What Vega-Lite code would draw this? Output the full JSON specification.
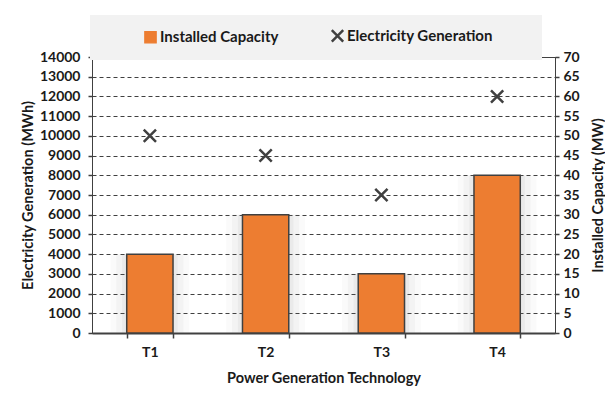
{
  "$schema": "https://vega.github.io/schema/vega-lite/v6.json",
  "width": 463,
  "height": 276,
  "autosize": {"type": "none"},
  "padding": {"left": 92, "top": 57, "right": 50, "bottom": 77},
  "background": "white",
  "config": {
    "font": "Lato",
    "view": {"stroke": "#404040", "strokeWidth": 1},
    "axis": {
      "labelFont": "Lato",
      "labelFontWeight": "bold",
      "labelFontSize": 14,
      "labelColor": "#1a1a1a",
      "titleFont": "Lato",
      "titleFontWeight": "bold",
      "titleFontSize": 14.5,
      "titleColor": "#1a1a1a",
      "domainColor": "#404040",
      "tickColor": "#404040",
      "tickWidth": 1.5,
      "tickSize": 4
    },
    "legend": {
      "orient": "none",
      "legendX": -2,
      "legendY": -42,
      "direction": "horizontal",
      "fillColor": "#f2f2f2",
      "padding": 13,
      "symbolOffset": 40,
      "columnPadding": 11,
      "labelOffset": 2,
      "symbolSize": 130,
      "labelFont": "Lato",
      "labelFontWeight": "bold",
      "labelFontSize": 15,
      "labelColor": "#1a1a1a",
      "labelLimit": 300,
      "titleOrient": "right",
      "titlePadding": 36
    }
  },
  "data": {
    "values": [
      {"tech": "T1", "capacity": 20, "generation": 10000},
      {"tech": "T2", "capacity": 30, "generation": 9000},
      {"tech": "T3", "capacity": 15, "generation": 7000},
      {"tech": "T4", "capacity": 40, "generation": 12000}
    ]
  },
  "encoding": {
    "x": {
      "field": "tech",
      "type": "nominal",
      "title": "Power Generation Technology",
      "scale": {"paddingInner": 0.6, "paddingOuter": 0.3},
      "axis": {
        "labelAngle": 0,
        "tickBand": "extent",
        "tickSize": 5,
        "domainWidth": 2,
        "labelPadding": 7,
        "titlePadding": 12
      }
    }
  },
  "layer": [
    {
      "encoding": {
        "y": {
          "field": "capacity",
          "type": "quantitative",
          "title": "Installed Capacity (MW)",
          "scale": {"domain": [0, 70]},
          "axis": {
            "orient": "right",
            "values": [0, 5, 10, 15, 20, 25, 30, 35, 40, 45, 50, 55, 60, 65, 70],
            "grid": false,
            "labelPadding": 4,
            "titleAngle": 270,
            "titleBaseline": "top",
            "titlePadding": 12
          }
        }
      },
      "layer": [
        {
          "mark": {"type": "bar", "width": {"band": 1.7}, "color": "#7f7f7f", "opacity": 0.04}
        },
        {
          "mark": {"type": "bar", "width": {"band": 1.45}, "color": "#7f7f7f", "opacity": 0.05}
        },
        {
          "mark": {"type": "bar", "width": {"band": 1.2}, "color": "#7f7f7f", "opacity": 0.07}
        },
        {
          "mark": {"type": "bar", "stroke": "#404040", "strokeWidth": 1.5},
          "encoding": {
            "color": {
              "datum": "Installed Capacity",
              "type": "nominal",
              "scale": {
                "domain": ["Installed Capacity", "Electricity Generation"],
                "range": ["#ED7D31", "#404040"]
              },
              "legend": {
                "title": "\u00a0",
                "encoding": {
                  "symbols": {
                    "shape": {"value": {"expr": "datum.value === 'Installed Capacity' ? 'square' : 'M-1,-1L1,1M-1,1L1,-1'"}},
                    "fill": {"value": {"expr": "datum.value === 'Installed Capacity' ? '#ED7D31' : 'transparent'"}},
                    "stroke": {"value": "#404040"},
                    "strokeWidth": {"value": {"expr": "datum.value === 'Installed Capacity' ? 1.2 : 2.5"}},
                    "opacity": {"value": 1}
                  }
                }
              }
            }
          }
        }
      ]
    },
    {
      "mark": {
        "type": "point",
        "shape": "M-1,-1L1,1M-1,1L1,-1",
        "filled": false,
        "strokeWidth": 2.5,
        "size": 150,
        "opacity": 1
      },
      "encoding": {
        "y": {
          "field": "generation",
          "type": "quantitative",
          "title": "Electricity Generation (MWh)",
          "scale": {"domain": [0, 14000]},
          "axis": {
            "values": [0, 1000, 2000, 3000, 4000, 5000, 6000, 7000, 8000, 9000, 10000, 11000, 12000, 13000, 14000],
            "format": "d",
            "grid": true,
            "gridDash": [4, 3],
            "gridColor": "#404040",
            "gridWidth": 1,
            "labelPadding": 8,
            "titlePadding": 4
          }
        },
        "color": {
          "datum": "Electricity Generation",
          "type": "nominal",
          "legend": {
            "title": "\u00a0",
            "encoding": {
              "symbols": {
                "shape": {"value": {"expr": "datum.value === 'Installed Capacity' ? 'square' : 'M-1,-1L1,1M-1,1L1,-1'"}},
                "fill": {"value": {"expr": "datum.value === 'Installed Capacity' ? '#ED7D31' : 'transparent'"}},
                "stroke": {"value": "#404040"},
                "strokeWidth": {"value": {"expr": "datum.value === 'Installed Capacity' ? 1.2 : 2.5"}},
                "opacity": {"value": 1}
              }
            }
          }
        }
      }
    }
  ],
  "resolve": {"scale": {"y": "independent"}}
}
